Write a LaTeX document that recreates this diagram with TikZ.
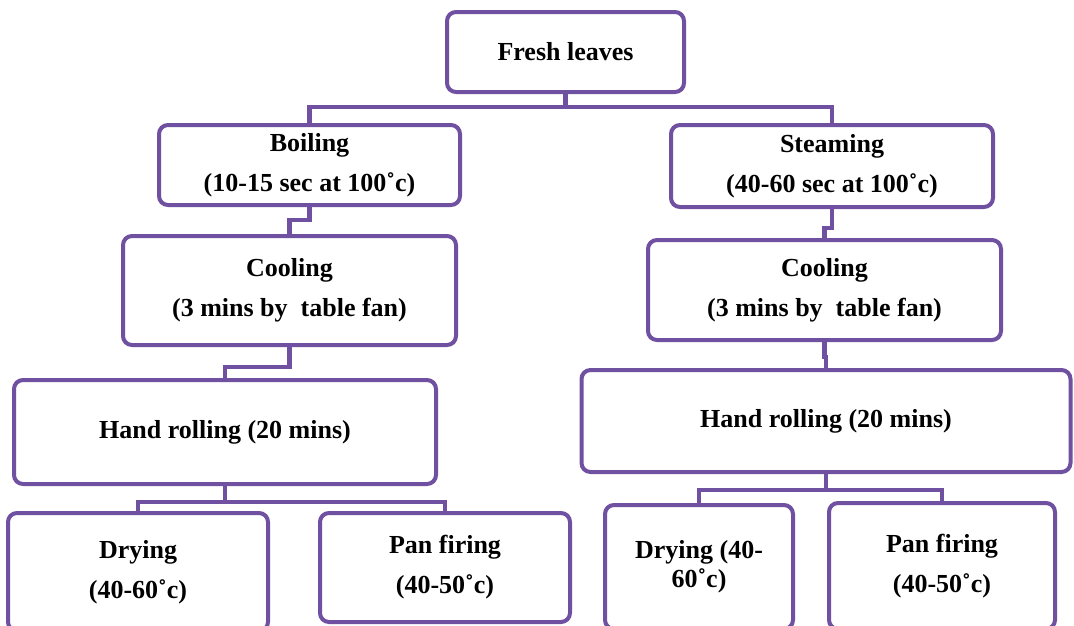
\documentclass[tikz,border=0pt]{standalone}
\usepackage{fontspec}
\setmainfont{Liberation Serif}
\usepackage{tikz}
\usetikzlibrary{calc}
\definecolor{boxpurple}{RGB}{112,80,160}

\begin{document}
\begin{tikzpicture}[x=1pt,y=1pt,yscale=-1,xscale=1,
    stage/.style={draw=boxpurple, line width=4pt, rounded corners=9pt, fill=white, align=center,
        font=\fontsize{26}{40}\selectfont\bfseries, inner sep=0pt},
    link/.style={draw=boxpurple, line width=4.5pt}]
    \useasboundingbox (0,0) rectangle (1074,625);

    %Shape: boxes
    \node[stage, minimum width=237, minimum height=80] (fresh) at (565.5,52) {Fresh leaves};
    \node[stage, minimum width=301, minimum height=80] (boil) at (309.5,165) {Boiling\\(10-15 sec at 100˚c)};
    \node[stage, minimum width=322, minimum height=82] (steam) at (832,166) {Steaming\\(40-60 sec at 100˚c)};
    \node[stage, minimum width=333, minimum height=109] (coolL) at (289.5,290.5) {Cooling\\(3 mins by\ \ table fan)};
    \node[stage, minimum width=353, minimum height=100] (coolR) at (824.5,290) {Cooling\\(3 mins by\ \ table fan)};
    \node[stage, minimum width=422, minimum height=104] (rollL) at (225,432) {Hand rolling (20 mins)};
    \node[stage, minimum width=489, minimum height=102] (rollR) at (826,421) {Hand rolling (20 mins)};
    \node[stage, minimum width=260, minimum height=118] (dryL) at (138,572) {Drying\\(40-60˚c)};
    \node[stage, minimum width=250, minimum height=109] (panL) at (445,567.5) {Pan firing\\(40-50˚c)};
    \node[stage, minimum width=188, minimum height=124, font=\fontsize{26}{29}\selectfont\bfseries] (dryR) at (699,567) {Drying (40-\\60˚c)};
    \node[stage, minimum width=226, minimum height=126] (panR) at (942,566) {Pan firing\\(40-50˚c)};

    %Coordinate: links
    \draw[link] (fresh.south) -- ++(0,13) -| (boil.north);
    \draw[link] (fresh.south) -- ++(0,13) -| (steam.north);
    \draw[link] (boil.south) -- ++(0,13) -| (coolL.north);
    \draw[link] (steam.south) -- ++(0,19) -| (coolR.north);
    \draw[link] (coolL.south) -- ++(0,20) -| (rollL.north);
    \draw[link] (coolR.south) -- ++(0,15) -| (rollR.north);
    \draw[link] (rollL.south) -- ++(0,16) -| (dryL.north);
    \draw[link] (rollL.south) -- ++(0,16) -| (panL.north);
    \draw[link] (rollR.south) -- ++(0,16) -| (dryR.north);
    \draw[link] (rollR.south) -- ++(0,16) -| (panR.north);
\end{tikzpicture}
\end{document}
